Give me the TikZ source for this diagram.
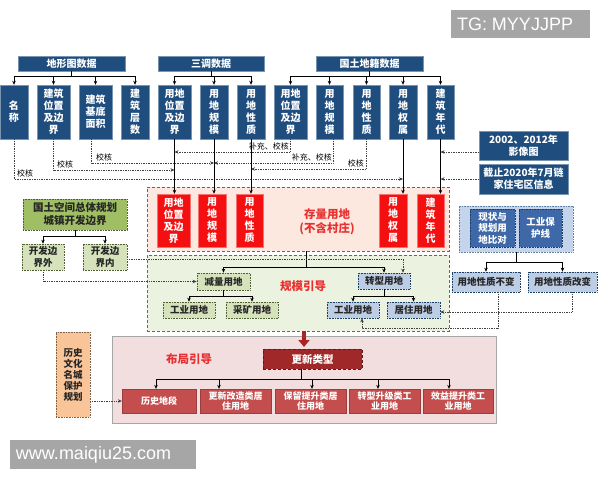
\documentclass[tikz,border=0pt]{standalone}
\usepackage{fontspec}
\setmainfont{Noto Sans CJK SC}
\newfontfamily\wmfont{Liberation Sans}
\usetikzlibrary{arrows.meta}
\definecolor{navyc}{RGB}{31,77,125}
\definecolor{redc}{RGB}{244,16,16}
\definecolor{peach}{RGB}{252,232,222}
\definecolor{lgreen}{RGB}{236,242,224}
\definecolor{pinkc}{RGB}{242,222,222}
\definecolor{dred}{RGB}{160,40,40}
\definecolor{mred}{RGB}{196,78,78}
\definecolor{ogreen}{RGB}{160,190,100}
\definecolor{sgreen}{RGB}{214,226,188}
\definecolor{sblue}{RGB}{188,205,228}
\definecolor{oblue}{RGB}{196,212,234}
\definecolor{mblue}{RGB}{62,104,168}
\definecolor{orng}{RGB}{249,196,152}
\definecolor{lblred}{RGB}{232,48,48}
\definecolor{wmgray}{RGB}{166,166,166}
\newcommand\bx[7]{\node[#2, minimum width={(#5-#3)*1pt}, minimum height={(#6-#4)*1pt}] (#1) at ({(#3+#5)/2},{(#4+#6)/2}) {#7};}
\tikzset{
  base/.style={inner sep=0pt, align=center, font=\bfseries\fontsize{10}{12}\selectfont},
  navy/.style={base, fill=navyc, draw=navyc!60!white, line width=0.4pt, text=white},
  redb/.style={base, fill=redc, draw=redc!60!white, line width=0.4pt, text=white},
  region/.style={inner sep=0pt, draw=gray!80!black, densely dashed, line width=0.5pt},
  ogr/.style={base, fill=ogreen, draw=ogreen!50!black, densely dotted, line width=0.6pt, text=black!85, font=\bfseries\fontsize{10.5}{13}\selectfont},
  sgr/.style={base, fill=sgreen, draw=ogreen!50!black, densely dotted, line width=0.6pt, text=black!85, font=\bfseries\fontsize{9.5}{11.5}\selectfont},
  sbl/.style={base, fill=sblue, draw=navyc!80!black, densely dotted, line width=0.6pt, text=black!85, font=\bfseries\fontsize{9.5}{11.5}\selectfont},
  obl/.style={base, fill=oblue, draw=navyc!70!white, densely dotted, line width=0.6pt},
  mbl/.style={base, fill=mblue, draw=navyc!80!black, densely dotted, line width=0.6pt, text=white, font=\bfseries\fontsize{9.5}{11.5}\selectfont},
  gxs/.style={base, fill=dred, draw=dred!60!black, densely dashed, line width=0.6pt, text=white, font=\bfseries\fontsize{10.5}{12}\selectfont},
  mrs/.style={base, fill=mred, draw=mred!80!black, line width=0.3pt, text=white, font=\bfseries\fontsize{9}{10.5}\selectfont},
  ors/.style={base, fill=orng, draw=orng!50!black, densely dotted, line width=0.6pt, text=black!85, font=\bfseries\fontsize{9.5}{11}\selectfont},
  wmk/.style={inner sep=0pt, fill=wmgray},
  wmt/.style={inner sep=0pt, text=white, font=\wmfont\fontsize{18}{20}\selectfont},
  rlab/.style={inner sep=0pt, align=center, text=lblred, font=\bfseries\fontsize{11.5}{14}\selectfont},
  lab/.style={inner sep=0pt, font=\fontsize{8}{9}\selectfont},
  ln/.style={line width=0.8pt, black},
  dot/.style={densely dotted, line width=0.7pt, black!75},
  arr/.style={-{Stealth[length=4pt,width=3.5pt]}},
  bigarr/.style={line width=3.5pt, draw=dred!90!red, -{Triangle[length=7pt,width=11pt]}}
}
\begin{document}
\begin{tikzpicture}[x=1pt,y=-1pt]
\fill[white] (0,0) rectangle (600,480);
\useasboundingbox (0,0) rectangle (600,480);
% regions
\bx{stock}{region, fill=peach}{147}{187}{449}{251}{}
\bx{scale}{region, fill=lgreen}{147}{255}{449}{331}{}
\bx{layout}{inner sep=0pt, fill=pinkc, draw=gray!70, line width=0.6pt}{112}{336}{496}{423}{}
% headers
\bx{h1}{navy}{18}{56}{125}{71}{地形图数据}
\bx{h2}{navy}{158}{56}{264}{71}{三调数据}
\bx{h3}{navy}{316}{56}{423}{71}{国土地籍数据}
% columns
\bx{a1}{navy}{0}{85}{28}{139}{名\\称}
\bx{a2}{navy}{37}{85}{70}{139}{建筑\\位置\\及边\\界}
\bx{a3}{navy}{79}{85}{112}{139}{建筑\\基底\\面积}
\bx{a4}{navy}{121}{85}{149}{139}{建\\筑\\层\\数}
\bx{b1}{navy}{158}{85}{191}{139}{用地\\位置\\及边\\界}
\bx{b2}{navy}{200}{85}{228}{139}{用\\地\\规\\模}
\bx{b3}{navy}{237}{85}{265}{139}{用\\地\\性\\质}
\bx{c1}{navy}{274}{85}{307}{139}{用地\\位置\\及边\\界}
\bx{c2}{navy}{316}{85}{343}{139}{用\\地\\规\\模}
\bx{c3}{navy}{353}{85}{380}{139}{用\\地\\性\\质}
\bx{c4}{navy}{389}{85}{417}{139}{用\\地\\权\\属}
\bx{c5}{navy}{427}{85}{454}{139}{建\\筑\\年\\代}
% header buses
\draw[ln] (h1.south) -- (h1.south |- 0,76);
\draw[ln] (a1.north |- 0,76) -- (a4.north |- 0,76);
\foreach \n in {a1,a2,a3,a4} \draw[ln,arr] (\n.north |- 0,76) -- (\n.north);
\draw[ln] (h2.south) -- (h2.south |- 0,76);
\draw[ln] (b1.north |- 0,76) -- (b3.north |- 0,76);
\foreach \n in {b1,b2,b3} \draw[ln,arr] (\n.north |- 0,76) -- (\n.north);
\draw[ln] (h3.south) -- (h3.south |- 0,76);
\draw[ln] (c1.north |- 0,76) -- (c5.north |- 0,76);
\foreach \n in {c1,c2,c3,c4,c5} \draw[ln,arr] (\n.north |- 0,76) -- (\n.north);
% right info boxes
\bx{img}{navy}{479}{131}{568}{160}{2002、2012年\\影像图}
\bx{lj}{navy}{479}{164}{568}{194}{截止2020年7月链\\家住宅区信息}
% red boxes
\bx{r1}{redb}{157}{194}{190}{247}{用地\\位置\\及边\\界}
\bx{r2}{redb}{198}{194}{226}{247}{用\\地\\规\\模}
\bx{r3}{redb}{236}{194}{263}{247}{用\\地\\性\\质}
\bx{r4}{redb}{379}{194}{407}{247}{用\\地\\权\\属}
\bx{r5}{redb}{417}{194}{444}{247}{建\\筑\\年\\代}
\node[rlab] at (327,222) {存量用地\\(不含村庄)};
% dotted checks
\draw[dot,arr] (a1.south) |- (c4.south |- 0,179);
\node[lab] at (25,173) {校核};
\draw[dot,arr] (a2.south) |- (b1.south |- 0,170);
\node[lab] at (65,164) {校核};
\draw[dot,arr] ([xshift=-4pt]a3.south) |- (b2.south |- 0,163);
\node[lab] at (104,157) {校核};
\draw[dot,arr] (c1.south) |- (b1.south |- 0,152);
\node[lab,anchor=east] at (289,146.5) {补充、校核};
\draw[dot,arr] ([xshift=4pt]c2.south) |- (b2.south |- 0,163);
\node[lab,anchor=east] at (332,157.5) {补充、校核};
\draw[dot,arr] (c3.south) |- (b3.south |- 0,169);
\node[lab,anchor=east] at (364,163.5) {校核};
\draw[dot,arr] (img.west |- 0,152) -- (c5.south |- 0,152);
\draw[dot,arr] (lj.west) -- (c5.south |- lj.west);
% solid verticals
\foreach \s/\t in {b1/r1,b2/r2,b3/r3,c4/r4,c5/r5} \draw[ln,arr] (\s.south) -- (\s.south |- \t.north);
% green left
\bx{tg}{ogr}{23}{199}{127}{230}{国土空间总体规划\\城镇开发边界}
\bx{wai}{sgr}{22}{244}{64}{270}{开发边\\界外}
\bx{nei}{sgr}{83}{244}{127}{270}{开发边\\界内}
\draw[ln] (tg.south) -- (tg.south |- 0,236);
\draw[ln] (wai.north |- 0,236) -- (nei.north |- 0,236);
\foreach \n in {wai,nei} \draw[ln,arr] (\n.north |- 0,236) -- (\n.north);
% scale region
\node[rlab] at (303,286) {规模引导};
\bx{jian}{sgr}{197}{273}{250}{290}{减量用地}
\bx{gy1}{sgr}{163}{302}{215}{318}{工业用地}
\bx{ck}{sgr}{226}{302}{278}{318}{采矿用地}
\bx{zx}{sbl}{358}{273}{410}{289}{转型用地}
\bx{gy2}{sbl}{327}{302}{379}{318}{工业用地}
\bx{jz}{sbl}{387}{302}{440}{318}{居住用地}
\coordinate (sst) at (stock.south -| 306,0);
\draw[ln] (sst) -- (sst |- 0,267);
\draw[ln] (jian.north |- 0,267) -- (zx.north |- 0,267);
\foreach \n in {jian,zx} \draw[ln,arr] (\n.north |- 0,267) -- (\n.north);
\draw[dot,arr] (nei.east |- 0,259) -| ([xshift=19pt]zx.north);
\draw[dot,arr] (wai.south) |- (jian.west);
\draw[ln] (jian.south) -- (jian.south |- 0,296);
\draw[ln] (gy1.north |- 0,296) -- (ck.north |- 0,296);
\foreach \n in {gy1,ck} \draw[ln,arr] (\n.north |- 0,296) -- (\n.north);
\draw[ln] (zx.south) -- (zx.south |- 0,296);
\draw[ln] (gy2.north |- 0,296) -- (jz.north |- 0,296);
\foreach \n in {gy2,jz} \draw[ln,arr] (\n.north |- 0,296) -- (\n.north);
% right comparison
\bx{cmp}{obl}{459}{206}{573}{252}{}
\bx{xz}{mbl}{470}{209}{515}{247}{现状与\\规划用\\地比对}
\bx{gb}{mbl}{519}{209}{562}{247}{工业保\\护线}
\bx{bb}{sbl}{452}{272}{520}{292}{用地性质不变}
\bx{gbb}{sbl}{528}{272}{597}{292}{用地性质改变}
\draw[ln] (cmp.south) -- (cmp.south |- 0,262);
\draw[ln] (bb.north |- 0,262) -- (gbb.north |- 0,262);
\foreach \n in {bb,gbb} \draw[ln,arr] (\n.north |- 0,262) -- (\n.north);
\draw[dot,arr] (bb.south -| 498,0) |- (362,328) -- (gy2.south -| 362,0);
\draw[dot,arr] (gbb.south -| 572,0) |- (jz.east |- 0,312);
% big arrow
\draw[bigarr] (scale.south -| layout.north) -- (layout.north |- 0,347);
% layout region
\node[rlab] at (189,359) {布局引导};
\bx{gx}{gxs}{263}{349}{362}{369}{更新类型}
\bx{l1}{mrs}{122}{389}{196}{413}{历史地段}
\bx{l2}{mrs}{200}{389}{271}{413}{更新改造类居\\住用地}
\bx{l3}{mrs}{275}{389}{346}{413}{保留提升类居\\住用地}
\bx{l4}{mrs}{349}{389}{420}{413}{转型升级类工\\业用地}
\bx{l5}{mrs}{423}{389}{493}{413}{效益提升类工\\业用地}
\draw[ln] (gx.south -| 301,0) -- (301,379);
\draw[ln] (156,379) -- (449,379);
\foreach \n/\x in {l1/156,l2/219,l3/312,l4/378,l5/449} \draw[ln,arr] (\x,379) -- (\n.north -| \x,0);
\bx{hs}{ors}{56}{332}{90}{417}{历史\\文化\\名城\\保护\\规划}
\draw[dot,arr] (hs.east |- l1.west) -- (l1.west);
% watermarks
\bx{tgm}{wmk}{451}{10}{590}{38}{}
\node[wmt, anchor=west] at ([xshift=6pt]tgm.west) {TG: MYYJJPP};
\bx{wwm}{wmk}{10}{440}{196}{469}{}
\node[wmt, anchor=west] at ([xshift=6pt]wwm.west) {www.maiqiu25.com};
\end{tikzpicture}
\end{document}
